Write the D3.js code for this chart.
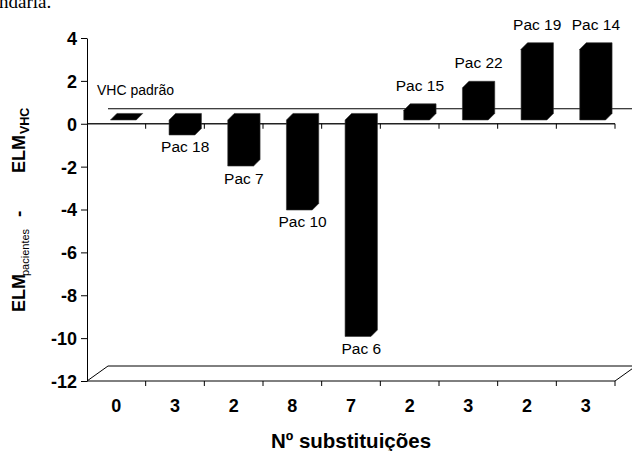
<!DOCTYPE html>
<html>
<head>
<meta charset="utf-8">
<script src="https://cdn.jsdelivr.net/npm/d3@7/dist/d3.min.js"></script>
<style>
  html, body { margin: 0; padding: 0; background: #fff; }
  svg { display: block; }
</style>
</head>
<body>
<svg id="chart" width="632" height="451"></svg>
<script>
// Number of substitutions per patient (category axis)
const categories = ["0", "3", "2", "8", "7", "2", "3", "2", "3"];
// Patient labels shown next to each column ("" for the reference strain)
const patients = ["", "Pac 18", "Pac 7", "Pac 10", "Pac 6", "Pac 15", "Pac 22", "Pac 19", "Pac 14"];
// ELM(patient) - ELM(VHC)
const values = [0, -0.7, -2.15, -4.2, -10.1, 0.45, 1.5, 3.3, 3.3];
// Value axis ticks
const yTicks = [4, 2, 0, -2, -4, -6, -8, -10, -12];
const referenceLabel = "VHC padrão";
const xTitle = "Nº substituições";

const svg = d3.select("#chart");
const FONT = "'Liberation Sans', Arial, Helvetica, sans-serif";

// Layout of the pseudo-3D plot
const plot = { left: 87, right: 615, top: 38, bottom: 381 };
const wall = { dx: 21, dy: -15 };      // offset of the back wall
const face = { dx: 7, dy: -3.8 };      // offset of the column front faces
const depth = 6.5;                     // column depth (both axes)

const x = d3.scaleBand().domain(d3.range(categories.length)).range([plot.left, plot.right]).padding(0);
const y = d3.scaleLinear().domain([-12, 4]).range([plot.bottom, plot.top]);
const barW = x.bandwidth() * 0.44;

// Cropped line of running text above the chart
svg.append("text")
  .attr("x", -1).attr("y", 8)
  .attr("font-family", "'Liberation Serif', 'Times New Roman', serif")
  .attr("font-size", 19)
  .text("ndaria.");

// Floor of the plot at the axis minimum
const yMin = y(-12);
svg.append("path")
  .attr("d", `M${plot.left},${yMin}L${plot.right},${yMin}L${plot.right + wall.dx},${yMin + wall.dy}L${plot.left + wall.dx},${yMin + wall.dy}Z`)
  .attr("fill", "none").attr("stroke", "#000").attr("stroke-width", 1);

// Reference line (zero on the back wall)
const yRef = y(0) + wall.dy;
svg.append("line")
  .attr("x1", plot.left + wall.dx).attr("x2", plot.right + wall.dx)
  .attr("y1", yRef).attr("y2", yRef)
  .attr("stroke", "#000").attr("stroke-width", 1);
svg.append("text")
  .attr("x", plot.left + 10).attr("y", yRef - 14)
  .attr("font-family", FONT).attr("font-size", 14)
  .text(referenceLabel);

// Category axis at zero with downward ticks at band boundaries
const boundaries = d3.range(categories.length).map(i => x(i)).concat([plot.right]);
svg.append("line")
  .attr("x1", plot.left).attr("x2", plot.right)
  .attr("y1", y(0)).attr("y2", y(0))
  .attr("stroke", "#222").attr("stroke-width", 1.3);
svg.append("g").selectAll("line")
  .data(boundaries.slice(1))
  .join("line")
  .attr("x1", d => d).attr("x2", d => d)
  .attr("y1", y(0)).attr("y2", y(0) + 5)
  .attr("stroke", "#000");
svg.append("g").selectAll("line")
  .data(boundaries.slice(1))
  .join("line")
  .attr("x1", d => d).attr("x2", d => d)
  .attr("y1", yMin).attr("y2", yMin + 5)
  .attr("stroke", "#000");

// Category labels
svg.append("g").selectAll("text")
  .data(categories)
  .join("text")
  .attr("x", (d, i) => x(i) + x.bandwidth() / 2)
  .attr("y", yMin + 30.5)
  .attr("text-anchor", "middle")
  .attr("font-family", FONT).attr("font-size", 18).attr("font-weight", "bold")
  .text(d => d);

// Value axis
const yAxis = svg.append("g")
  .attr("transform", `translate(${plot.left},0)`)
  .call(d3.axisLeft(y).tickValues(yTicks).tickSize(6).tickSizeOuter(0).tickPadding(4).tickFormat(d3.format("d")));
yAxis.select(".domain").attr("stroke", "#000");
yAxis.selectAll(".tick line").attr("stroke", "#000");
yAxis.selectAll(".tick text")
  .attr("font-family", FONT).attr("font-size", 18).attr("font-weight", "bold")
  .attr("fill", "#000").attr("dy", "0.36em")
  .text(d => d < 0 ? "-" + Math.abs(d) : d);

// Columns: front face + top + side, all solid black
const faceZero = y(0) + face.dy;
function column(v, i) {
  const xl = x(i) + x.bandwidth() / 2 + face.dx - barW / 2;
  const xr = xl + barW;
  const yv = y(v) + face.dy;
  const yt = Math.min(yv, faceZero), yb = Math.max(yv, faceZero);
  return [[xl, yb], [xl, yt], [xl + depth, yt - depth], [xr + depth, yt - depth], [xr + depth, yb - depth], [xr, yb]];
}
svg.append("g").selectAll("path")
  .data(values)
  .join("path")
  .attr("d", (v, i) => d3.line()(column(v, i)) + "Z")
  .attr("fill", "#000")
  .attr("stroke", "#333").attr("stroke-width", 0.6);

// Patient labels above positive columns, below negative ones
svg.append("g").selectAll("text")
  .data(values.map((v, i) => ({ v, i, label: patients[i] })).filter(d => d.label))
  .join("text")
  .attr("x", d => x(d.i) + x.bandwidth() / 2 + face.dx + depth / 2)
  .attr("y", d => d.v < 0 ? y(d.v) + face.dy + 17.5 : y(d.v) + face.dy - depth - 13)
  .attr("text-anchor", "middle")
  .attr("font-family", FONT).attr("font-size", 15.5)
  .text(d => d.label);

// Axis titles
svg.append("text")
  .attr("x", 351).attr("y", 448)
  .attr("text-anchor", "middle")
  .attr("font-family", FONT).attr("font-size", 20.5).attr("font-weight", "bold")
  .text(xTitle);

const yTitle = svg.append("text")
  .attr("transform", "translate(25,312) rotate(-90)")
  .attr("font-family", FONT).attr("font-weight", "bold");
yTitle.append("tspan").attr("x", 0).attr("y", 0).attr("font-size", 18).text("ELM");
yTitle.append("tspan").attr("x", 36).attr("y", 3.5).attr("font-size", 11).attr("font-weight", "normal").text("pacientes");
yTitle.append("tspan").attr("x", 95).attr("y", 0).attr("font-size", 19).text("-");
yTitle.append("tspan").attr("x", 139).attr("y", 0).attr("font-size", 18).text("ELM");
yTitle.append("tspan").attr("x", 178).attr("y", 3.5).attr("font-size", 12.5).text("VHC");
</script>
</body>
</html>
